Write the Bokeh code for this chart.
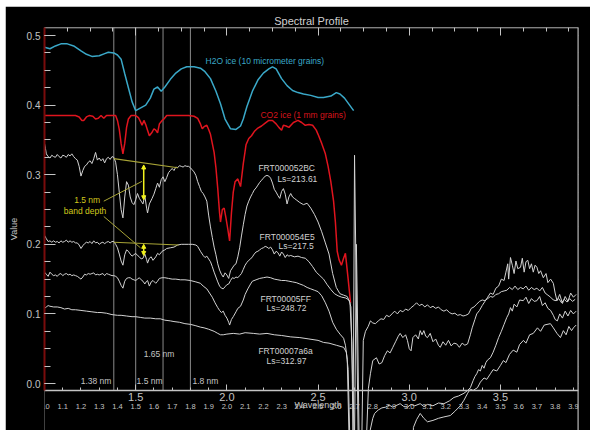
from bokeh.plotting import figure
from bokeh.models import (Range1d, LinearAxis, FixedTicker, Label, Arrow, NormalHead,
                          PrintfTickFormatter)
from bokeh.embed import file_html
from bokeh.resources import INLINE
from bokeh.core.properties import value

# ---------------- data (wavelength in micrometers, value) ----------------
h2o_ice = [(1.00,0.483),(1.03,0.481),(1.06,0.485),(1.09,0.488),(1.125,0.488),(1.16,0.485),(1.20,0.478),
           (1.23,0.473),(1.26,0.470),(1.30,0.471),(1.33,0.474),(1.35,0.476),(1.38,0.475),(1.40,0.472),
           (1.42,0.466),(1.44,0.445),(1.46,0.425),(1.48,0.405),(1.50,0.392),(1.52,0.395),(1.555,0.400),
           (1.58,0.410),(1.60,0.423),(1.62,0.426),(1.64,0.420),(1.66,0.426),(1.69,0.437),(1.72,0.446),
           (1.75,0.452),(1.78,0.455),(1.82,0.455),(1.855,0.453),(1.88,0.448),(1.91,0.438),(1.94,0.420),
           (1.965,0.402),(1.99,0.380),(2.02,0.366),(2.05,0.365),(2.075,0.370),(2.09,0.380),(2.11,0.398),
           (2.14,0.420),(2.17,0.436),(2.20,0.446),(2.23,0.452),(2.25,0.455),(2.27,0.452),(2.30,0.438),
           (2.33,0.428),(2.36,0.421),(2.39,0.418),(2.42,0.416),(2.46,0.414),(2.50,0.411),(2.53,0.411),
           (2.57,0.413),(2.60,0.418),(2.62,0.416),(2.645,0.410),(2.67,0.401),(2.695,0.392)]

co2_ice = [(1.00,0.385),(1.17,0.385),(1.19,0.383),(1.205,0.378),(1.215,0.378),(1.23,0.383),(1.245,0.385),
           (1.265,0.384),(1.28,0.380),(1.295,0.381),(1.31,0.385),(1.325,0.381),(1.34,0.385),(1.39,0.385),
           (1.40,0.378),(1.41,0.365),(1.42,0.345),(1.43,0.330),(1.44,0.345),(1.45,0.368),(1.46,0.380),
           (1.475,0.385),(1.50,0.385),(1.515,0.382),(1.525,0.377),(1.535,0.371),(1.545,0.378),(1.555,0.372),
           (1.565,0.364),(1.575,0.356),(1.59,0.361),(1.60,0.366),(1.61,0.364),(1.62,0.360),(1.63,0.373),
           (1.645,0.378),(1.655,0.380),(1.67,0.385),(1.79,0.385),(1.82,0.384),(1.84,0.381),(1.855,0.373),
           (1.865,0.366),(1.875,0.369),(1.89,0.371),(1.90,0.365),(1.91,0.358),(1.92,0.345),(1.93,0.332),
           (1.94,0.310),(1.95,0.280),(1.96,0.245),(1.965,0.232),(1.975,0.250),(1.985,0.252),(1.995,0.238),
           (2.005,0.222),(2.015,0.205),(2.025,0.245),(2.035,0.275),(2.045,0.290),(2.06,0.294),(2.075,0.283),
           (2.09,0.316),(2.105,0.343),(2.12,0.352),(2.135,0.356),(2.15,0.362),(2.17,0.367),(2.19,0.370),
           (2.21,0.374),(2.23,0.378),(2.25,0.378),(2.27,0.373),(2.285,0.368),(2.30,0.364),(2.31,0.371),
           (2.325,0.370),(2.34,0.368),(2.365,0.375),(2.39,0.378),(2.41,0.375),(2.43,0.371),(2.45,0.372),
           (2.47,0.371),(2.49,0.364),(2.50,0.358),(2.52,0.345),(2.54,0.330),(2.555,0.312),(2.57,0.290),
           (2.585,0.262),(2.595,0.232),(2.605,0.190),(2.615,0.178),(2.628,0.170),(2.64,0.180),(2.65,0.187),
           (2.665,0.150),(2.678,0.116)]

frt_52bc = [(1.00,0.345),(1.005,0.338),(1.01,0.330),(1.02,0.326),(1.03,0.324),(1.04,0.328),(1.05,0.326),
            (1.06,0.325),(1.07,0.329),(1.08,0.326),(1.09,0.324),(1.10,0.328),(1.11,0.327),(1.12,0.325),
            (1.13,0.329),(1.14,0.327),(1.15,0.330),(1.16,0.326),(1.17,0.323),(1.18,0.321),(1.19,0.312),
            (1.20,0.298),(1.21,0.306),(1.22,0.312),(1.23,0.314),(1.24,0.318),(1.25,0.320),(1.26,0.316),
            (1.27,0.323),(1.28,0.332),(1.29,0.321),(1.30,0.324),(1.31,0.320),(1.32,0.323),(1.33,0.317),
            (1.34,0.323),(1.35,0.325),(1.36,0.322),(1.37,0.326),(1.38,0.325),(1.39,0.318),(1.40,0.300),
            (1.41,0.275),(1.42,0.250),(1.43,0.238),(1.44,0.268),(1.45,0.290),(1.46,0.285),(1.47,0.268),
            (1.48,0.260),(1.49,0.257),(1.50,0.264),(1.51,0.273),(1.52,0.266),(1.53,0.262),(1.54,0.258),
            (1.55,0.270),(1.56,0.252),(1.565,0.245),(1.575,0.258),(1.59,0.266),(1.60,0.272),(1.61,0.280),
            (1.62,0.288),(1.63,0.282),(1.64,0.293),(1.65,0.297),(1.66,0.290),(1.67,0.296),(1.68,0.303),
            (1.69,0.306),(1.70,0.309),(1.71,0.306),(1.72,0.311),(1.73,0.310),(1.74,0.313),(1.75,0.312),
            (1.76,0.311),(1.77,0.313),(1.78,0.312),(1.79,0.312),(1.80,0.310),(1.81,0.307),(1.82,0.304),
            (1.83,0.299),(1.84,0.290),(1.85,0.283),(1.86,0.276),(1.87,0.273),(1.88,0.268),(1.89,0.262),
            (1.90,0.242),(1.91,0.225),(1.92,0.210),(1.93,0.196),(1.94,0.185),(1.95,0.172),(1.96,0.163),
            (1.97,0.157),(1.98,0.153),(1.99,0.159),(2.00,0.156),(2.01,0.151),(2.02,0.162),(2.03,0.166),
            (2.04,0.170),(2.05,0.172),(2.06,0.182),(2.07,0.195),(2.08,0.212),(2.09,0.228),(2.10,0.243),
            (2.11,0.255),(2.12,0.262),(2.13,0.268),(2.14,0.273),(2.15,0.278),(2.16,0.281),(2.17,0.285),
            (2.18,0.289),(2.19,0.292),(2.20,0.295),(2.21,0.298),(2.22,0.299),(2.23,0.298),(2.24,0.295),
            (2.25,0.288),(2.26,0.279),(2.27,0.275),(2.28,0.270),(2.29,0.266),(2.30,0.276),(2.31,0.280),
            (2.32,0.272),(2.33,0.258),(2.34,0.268),(2.35,0.273),(2.36,0.268),(2.37,0.266),(2.38,0.264),
            (2.39,0.262),(2.40,0.260),(2.42,0.257),(2.44,0.259),(2.46,0.252),(2.48,0.243),(2.50,0.232),
            (2.52,0.218),(2.54,0.202),(2.56,0.186),(2.58,0.158),(2.60,0.138),(2.62,0.129),(2.64,0.127),
            (2.66,0.125),(2.675,0.116),(2.685,0.060),(2.692,-0.080),(2.70,0.328),(2.71,0.120),(2.72,-0.080),
            (2.765,-0.080),(2.776,-0.007),(2.787,0.014),(2.80,0.033),(2.82,0.037),(2.835,0.028),(2.85,0.030),
            (2.865,0.040),(2.88,0.047),(2.895,0.044),(2.91,0.052),(2.925,0.060),(2.94,0.068),(2.95,0.072),
            (2.965,0.066),(2.98,0.070),(2.99,0.062),(3.00,0.050),(3.01,0.047),(3.02,0.066),(3.035,0.070),
            (3.05,0.064),(3.06,0.076),(3.07,0.070),(3.08,0.076),(3.09,0.068),(3.10,0.066),(3.115,0.072),
            (3.13,0.060),(3.145,0.064),(3.16,0.055),(3.17,0.052),(3.185,0.060),(3.20,0.055),(3.215,0.062),
            (3.23,0.054),(3.245,0.058),(3.26,0.057),(3.275,0.052),(3.29,0.058),(3.305,0.055),(3.32,0.057),
            (3.335,0.070),(3.345,0.080),(3.36,0.092),(3.37,0.100),(3.385,0.105),(3.40,0.112),(3.415,0.118),
            (3.43,0.124),(3.445,0.130),(3.46,0.128),(3.475,0.137),(3.49,0.140),(3.505,0.150),(3.52,0.148),
            (3.53,0.160),(3.54,0.172),(3.545,0.150),(3.555,0.181),(3.565,0.170),(3.575,0.158),(3.585,0.176),
            (3.595,0.165),(3.61,0.167),(3.62,0.180),(3.63,0.160),(3.64,0.175),(3.65,0.177),(3.66,0.165),
            (3.67,0.172),(3.68,0.160),(3.69,0.170),(3.70,0.167),(3.71,0.158),(3.72,0.162),(3.735,0.152),
            (3.75,0.158),(3.76,0.145),(3.775,0.150),(3.79,0.144),(3.80,0.130),(3.81,0.119),(3.825,0.128),
            (3.84,0.115),(3.855,0.125),(3.87,0.118),(3.885,0.130),(3.90,0.124),(3.915,0.128)]

frt_54e5 = [(1.00,0.213),(1.01,0.208),(1.02,0.204),(1.03,0.205),(1.04,0.203),(1.05,0.205),(1.06,0.203),
            (1.07,0.204),(1.08,0.202),(1.09,0.205),(1.10,0.203),(1.11,0.204),(1.12,0.206),(1.13,0.203),
            (1.14,0.205),(1.15,0.203),(1.16,0.204),(1.17,0.202),(1.18,0.202),(1.19,0.199),(1.20,0.194),
            (1.21,0.198),(1.22,0.201),(1.23,0.203),(1.24,0.202),(1.25,0.204),(1.26,0.201),(1.27,0.205),
            (1.28,0.202),(1.29,0.203),(1.30,0.200),(1.31,0.202),(1.32,0.203),(1.33,0.201),(1.34,0.203),
            (1.35,0.204),(1.36,0.202),(1.37,0.204),(1.38,0.204),(1.39,0.200),(1.40,0.195),(1.41,0.186),
            (1.42,0.176),(1.43,0.170),(1.44,0.185),(1.45,0.192),(1.46,0.190),(1.47,0.186),(1.48,0.183),
            (1.49,0.185),(1.50,0.187),(1.51,0.184),(1.52,0.182),(1.53,0.179),(1.54,0.180),(1.55,0.186),
            (1.56,0.178),(1.565,0.173),(1.575,0.180),(1.585,0.182),(1.595,0.177),(1.61,0.182),(1.62,0.187),
            (1.63,0.185),(1.645,0.190),(1.66,0.192),(1.67,0.194),(1.69,0.195),(1.71,0.196),(1.73,0.199),
            (1.75,0.200),(1.77,0.200),(1.79,0.200),(1.81,0.200),(1.83,0.199),(1.84,0.197),(1.855,0.190),
            (1.87,0.184),(1.88,0.181),(1.89,0.183),(1.90,0.179),(1.91,0.175),(1.92,0.168),(1.93,0.160),
            (1.94,0.153),(1.95,0.146),(1.96,0.140),(1.97,0.137),(1.98,0.136),(1.99,0.139),(2.00,0.142),
            (2.01,0.143),(2.02,0.148),(2.03,0.152),(2.04,0.151),(2.05,0.153),(2.06,0.152),(2.07,0.155),
            (2.08,0.158),(2.09,0.164),(2.10,0.170),(2.11,0.174),(2.12,0.177),(2.13,0.179),(2.14,0.182),
            (2.15,0.186),(2.16,0.189),(2.17,0.190),(2.18,0.192),(2.19,0.194),(2.20,0.195),(2.21,0.197),
            (2.22,0.196),(2.23,0.194),(2.24,0.196),(2.25,0.192),(2.26,0.186),(2.27,0.190),(2.28,0.188),
            (2.29,0.183),(2.30,0.189),(2.31,0.186),(2.32,0.181),(2.33,0.185),(2.34,0.183),(2.35,0.184),
            (2.37,0.182),(2.39,0.183),(2.41,0.181),(2.43,0.180),(2.45,0.175),(2.47,0.168),(2.49,0.160),
            (2.51,0.155),(2.53,0.150),(2.55,0.142),(2.57,0.135),(2.59,0.129),(2.61,0.126),(2.63,0.124),
            (2.65,0.123),(2.67,0.120),(2.68,0.110),(2.69,0.000),(2.70,-0.080),(2.71,0.200),(2.715,0.120),
            (2.725,-0.080),(2.74,-0.080),(2.748,0.062),(2.76,0.075),(2.775,0.082),(2.787,0.090),(2.80,0.087),
            (2.815,0.086),(2.83,0.090),(2.845,0.093),(2.86,0.092),(2.875,0.098),(2.89,0.096),(2.905,0.100),
            (2.92,0.104),(2.935,0.100),(2.95,0.105),(2.965,0.103),(2.98,0.107),(2.995,0.105),(3.01,0.109),
            (3.025,0.112),(3.04,0.116),(3.055,0.112),(3.07,0.114),(3.085,0.110),(3.10,0.113),(3.115,0.109),
            (3.13,0.111),(3.145,0.108),(3.16,0.110),(3.175,0.106),(3.19,0.104),(3.205,0.106),(3.22,0.102),
            (3.235,0.100),(3.25,0.101),(3.265,0.098),(3.28,0.099),(3.295,0.097),(3.31,0.098),(3.325,0.100),
            (3.34,0.108),(3.355,0.110),(3.37,0.114),(3.385,0.118),(3.40,0.120),(3.415,0.119),(3.43,0.122),
            (3.445,0.125),(3.46,0.124),(3.475,0.128),(3.49,0.129),(3.505,0.132),(3.52,0.133),(3.535,0.134),
            (3.55,0.138),(3.565,0.135),(3.58,0.140),(3.595,0.135),(3.61,0.138),(3.625,0.136),(3.64,0.140),
            (3.655,0.134),(3.67,0.138),(3.685,0.135),(3.70,0.137),(3.715,0.133),(3.73,0.138),(3.745,0.130),
            (3.76,0.127),(3.775,0.124),(3.79,0.120),(3.805,0.119),(3.82,0.122),(3.835,0.116),(3.85,0.121),
            (3.865,0.117),(3.88,0.122),(3.895,0.118),(3.91,0.121)]

frt_5ff = [(1.00,0.160),(1.01,0.157),(1.02,0.154),(1.03,0.160),(1.04,0.157),(1.05,0.155),(1.06,0.156),
           (1.07,0.154),(1.08,0.157),(1.09,0.158),(1.10,0.155),(1.11,0.157),(1.12,0.158),(1.13,0.156),
           (1.14,0.157),(1.15,0.155),(1.16,0.156),(1.17,0.155),(1.18,0.154),(1.19,0.152),(1.20,0.150),
           (1.21,0.153),(1.22,0.157),(1.23,0.156),(1.24,0.158),(1.25,0.157),(1.26,0.158),(1.27,0.159),
           (1.28,0.156),(1.29,0.157),(1.30,0.156),(1.31,0.157),(1.32,0.158),(1.33,0.155),(1.34,0.158),
           (1.35,0.157),(1.36,0.156),(1.37,0.155),(1.38,0.155),(1.39,0.154),(1.40,0.152),(1.41,0.147),
           (1.42,0.141),(1.43,0.137),(1.44,0.147),(1.45,0.151),(1.46,0.152),(1.47,0.152),(1.48,0.150),
           (1.49,0.149),(1.50,0.148),(1.51,0.150),(1.52,0.152),(1.53,0.149),(1.54,0.147),(1.55,0.143),
           (1.56,0.147),(1.565,0.148),(1.575,0.140),(1.585,0.146),(1.595,0.148),(1.61,0.144),(1.62,0.147),
           (1.63,0.151),(1.645,0.152),(1.66,0.152),(1.68,0.151),(1.70,0.150),(1.72,0.150),(1.745,0.149),
           (1.77,0.149),(1.80,0.148),(1.83,0.146),(1.855,0.144),(1.87,0.140),(1.89,0.136),(1.905,0.130),
           (1.92,0.124),(1.935,0.116),(1.95,0.109),(1.96,0.105),(1.97,0.102),(1.98,0.104),(1.99,0.098),
           (2.00,0.094),(2.01,0.088),(2.015,0.084),(2.025,0.092),(2.035,0.096),(2.05,0.103),(2.06,0.108),
           (2.075,0.111),(2.09,0.120),(2.10,0.128),(2.115,0.136),(2.13,0.143),(2.14,0.147),(2.16,0.149),
           (2.18,0.151),(2.20,0.152),(2.22,0.153),(2.24,0.152),(2.26,0.150),(2.28,0.149),(2.30,0.148),
           (2.32,0.148),(2.34,0.147),(2.36,0.146),(2.38,0.145),(2.40,0.143),(2.42,0.141),(2.44,0.138),
           (2.46,0.136),(2.48,0.134),(2.50,0.132),(2.52,0.126),(2.54,0.116),(2.56,0.104),(2.58,0.088),
           (2.60,0.078),(2.62,0.071),(2.64,0.065),(2.65,0.055),(2.66,0.035),(2.67,-0.080),(2.78,-0.080),
           (2.785,-0.068),(2.80,-0.050),(2.81,-0.043),(2.83,-0.038),(2.85,-0.035),(2.87,-0.034),
           (2.89,-0.031),(2.91,-0.034),(2.925,-0.032),(2.95,-0.029),(2.97,-0.033),(2.99,-0.034),
           (3.01,-0.030),(3.03,-0.032),(3.06,-0.029),(3.08,-0.033),(3.10,-0.030),(3.13,-0.032),
           (3.16,-0.028),(3.19,-0.029),(3.22,-0.025),(3.245,-0.020),(3.27,-0.018),(3.30,-0.014),
           (3.32,-0.010),(3.335,-0.006),(3.35,0.004),(3.36,0.010),(3.37,0.014),(3.38,0.020),(3.39,0.018),
           (3.40,0.026),(3.41,0.022),(3.42,0.030),(3.43,0.034),(3.445,0.037),(3.46,0.045),(3.475,0.055),
           (3.49,0.066),(3.505,0.075),(3.52,0.085),(3.535,0.095),(3.545,0.100),(3.555,0.109),(3.565,0.104),
           (3.575,0.114),(3.59,0.110),(3.605,0.120),(3.625,0.119),(3.64,0.124),(3.655,0.115),(3.67,0.122),
           (3.685,0.118),(3.70,0.119),(3.715,0.125),(3.73,0.112),(3.745,0.116),(3.76,0.108),(3.775,0.105),
           (3.79,0.098),(3.80,0.092),(3.812,0.090),(3.825,0.100),(3.84,0.094),(3.855,0.104),(3.87,0.097),
           (3.885,0.105),(3.90,0.100),(3.915,0.104)]

frt_7a6a = [(1.00,0.108),(1.01,0.110),(1.02,0.112),(1.03,0.111),(1.05,0.110),(1.07,0.110),(1.09,0.109),
            (1.11,0.107),(1.13,0.108),(1.15,0.106),(1.17,0.106),(1.20,0.105),(1.23,0.104),(1.26,0.103),
            (1.29,0.102),(1.31,0.102),(1.34,0.101),(1.37,0.099),(1.40,0.098),(1.42,0.098),(1.45,0.097),
            (1.48,0.096),(1.50,0.096),(1.525,0.095),(1.55,0.094),(1.58,0.094),(1.61,0.093),(1.635,0.093),
            (1.66,0.091),(1.69,0.090),(1.71,0.089),(1.74,0.088),(1.77,0.086),(1.80,0.085),(1.83,0.083),
            (1.855,0.081),(1.875,0.080),(1.90,0.078),(1.93,0.075),(1.95,0.072),(1.965,0.070),(1.98,0.070),
            (2.00,0.071),(2.035,0.072),(2.07,0.071),(2.10,0.073),(2.145,0.072),(2.18,0.071),(2.22,0.072),
            (2.26,0.070),(2.30,0.069),(2.35,0.067),(2.40,0.066),(2.45,0.064),(2.50,0.062),(2.53,0.059),
            (2.56,0.058),(2.60,0.055),(2.64,0.052),(2.655,0.045),(2.665,0.020),(2.675,-0.090),(3.02,-0.090),
            (3.023,-0.063),(3.04,-0.052),(3.06,-0.043),(3.08,-0.050),(3.10,-0.055),(3.13,-0.053),
            (3.16,-0.050),(3.19,-0.048),(3.225,-0.046),(3.25,-0.040),(3.28,-0.032),(3.30,-0.024),
            (3.32,-0.014),(3.335,-0.008),(3.35,-0.010),(3.374,-0.006),(3.39,0.002),(3.41,0.008),
            (3.425,0.006),(3.445,0.014),(3.46,0.020),(3.48,0.018),(3.50,0.026),(3.516,0.033),(3.53,0.030),
            (3.55,0.042),(3.57,0.048),(3.59,0.045),(3.605,0.056),(3.626,0.062),(3.64,0.058),(3.66,0.070),
            (3.68,0.072),(3.703,0.080),(3.72,0.075),(3.74,0.084),(3.774,0.086),(3.79,0.080),(3.81,0.072),
            (3.829,0.066),(3.845,0.076),(3.86,0.070),(3.875,0.082),(3.89,0.076),(3.90,0.080),(3.915,0.084)]

spectra = [frt_52bc, frt_54e5, frt_5ff, frt_7a6a]

# spectrum labels
spec_label_text = ["FRT000052BC", "Ls=213.61", "FRT000054E5", "Ls=217.5",
                   "FRT00005FF", "Ls=248.72", "FRT00007a6a", "Ls=312.97"]
spec_label_x = [2.173, 2.277, 2.179, 2.283, 2.184, 2.217, 2.173, 2.217]
spec_label_y = [0.309, 0.2945, 0.211, 0.197, 0.122, 0.109, 0.047, 0.033]

# reference wavelengths
ref_lines = [1.38, 1.5, 1.65, 1.8]
ref_text = ["1.38 nm", "1.5 nm", "1.65 nm", "1.8 nm"]
ref_text_x = [1.367, 1.505, 1.628, 1.811]
ref_text_y = [0.004, 0.004, 0.042, 0.004]
ref_text_align = ["right", "left", "center", "left"]

# band-depth annotation
cont_x0 = [1.38, 1.38]
cont_y0 = [0.323, 0.203]
cont_x1 = [1.73, 1.735]
cont_y1 = [0.310, 0.199]
depth_x = [1.544, 1.544]
depth_top = [0.314, 0.200]
depth_bot = [0.264, 0.184]
ptr_x0 = [1.325, 1.325]
ptr_y0 = [0.262, 0.240]
ptr_x1 = [1.535, 1.526]
ptr_y1 = [0.2905, 0.195]

# axes
y_ticks = [0.0, 0.1, 0.2, 0.3, 0.4, 0.5]
y_minor = [round(0.025 * i, 3) for i in range(0, 21)]
x_major_ticks = [1.5, 2.0, 2.5, 3.0, 3.5]
x_small_ticks = [round(1.0 + 0.1 * i, 1) for i in range(0, 30)]
top_minor = [1.0 + 0.125 * i for i in range(0, 24)]

X0, X1 = 1.0, 3.928
Y0, Y1 = -0.0675, 0.5115
Y_AXIS = -0.01

FONT = value("Liberation Sans")
GRAY = "#c4c4c4"
WHITE = "#d2d2d2"
CYAN = "#3aa8c8"
RED = "#e0141e"
YEL_TXT = "#d0c81c"
YEL_LINE = "#a8a436"
YEL_ARROW = "#f2f21e"

p = figure(width=585, height=424, output_backend="svg", toolbar_location=None,
           x_range=Range1d(X0, X1), y_range=Range1d(Y0, Y1),
           x_axis_location=None, y_axis_location=None,
           min_border_left=39, min_border_right=12, min_border_top=21, min_border_bottom=0,
           background_fill_color="black", border_fill_color="black", outline_line_color=None)
p.margin = (6, 0, 0, 5)
p.grid.visible = False

p.title.text = "Spectral Profile"
p.title.align = "center"
p.title.text_color = "#d0d0d0"
p.title.text_font_size = "11px"
p.title.text_font_style = "normal"
p.title.text_font = "Liberation Sans"
p.title.standoff = 1

# left axis
yax = LinearAxis(ticker=FixedTicker(ticks=y_ticks, minor_ticks=y_minor), bounds=(Y_AXIS, Y1),
                 formatter=PrintfTickFormatter(format="%.1f"),
                 axis_line_color="#7a0c0c", axis_line_width=2,
                 major_tick_in=11, major_tick_out=0, minor_tick_in=6, minor_tick_out=0,
                 major_tick_line_color=GRAY, minor_tick_line_color=GRAY,
                 major_label_text_color=GRAY, major_label_text_font_size="10px",
                 major_label_text_font="Liberation Sans", major_label_standoff=4,
                 axis_label="Value", axis_label_text_color=GRAY, axis_label_text_font_size="9px",
                 axis_label_text_font="Liberation Sans", axis_label_text_font_style="normal",
                 axis_label_standoff=5)
p.add_layout(yax, "left")

# top axis (ticks only)
tax = LinearAxis(ticker=FixedTicker(ticks=[1.0] + x_major_ticks, minor_ticks=top_minor),
                 fixed_location=Y1, axis_line_color=GRAY, axis_line_width=1.5,
                 major_tick_in=8, major_tick_out=0, minor_tick_in=4, minor_tick_out=0,
                 major_tick_line_color=GRAY, minor_tick_line_color=GRAY,
                 major_label_text_alpha=0, major_label_text_font_size="1px")
p.add_layout(tax, "above")

# right axis (ticks only)
rax = LinearAxis(ticker=FixedTicker(ticks=y_ticks, minor_ticks=y_minor), fixed_location=X1,
                 axis_line_color="#bdbdbd", axis_line_width=2,
                 major_tick_in=0, major_tick_out=12, minor_tick_in=0, minor_tick_out=6,
                 major_tick_line_color="#9a9a9a", minor_tick_line_color="#9a9a9a",
                 major_label_text_alpha=0, major_label_text_font_size="1px")
p.add_layout(rax, "right")

# bottom axes
bax = LinearAxis(ticker=FixedTicker(ticks=x_major_ticks, minor_ticks=x_small_ticks),
                 fixed_location=Y_AXIS, formatter=PrintfTickFormatter(format="%.1f"),
                 axis_line_color=GRAY, axis_line_width=1.5,
                 major_tick_in=6, major_tick_out=0, minor_tick_in=3, minor_tick_out=0,
                 major_tick_line_color=GRAY, minor_tick_line_color=GRAY,
                 major_label_text_color=GRAY, major_label_text_font_size="11px",
                 major_label_text_font="Liberation Sans", major_label_standoff=3)
p.add_layout(bax, "below")

bax2 = LinearAxis(ticker=FixedTicker(ticks=x_small_ticks, minor_ticks=[]),
                  fixed_location=Y_AXIS, formatter=PrintfTickFormatter(format="%.1f"),
                  axis_line_color=None, major_tick_line_color=None, minor_tick_line_color=None,
                  major_tick_in=0, major_tick_out=0,
                  major_label_text_color=GRAY, major_label_text_font_size="7.5px",
                  major_label_text_font="Liberation Sans", major_label_standoff=14)
p.add_layout(bax2, "below")

p.add_layout(Label(x=2.5, y=-0.0315, text="Wavelength", text_align="center", text_baseline="middle",
                   text_color=GRAY, text_font_size="9px", text_font="Liberation Sans"))

# reference vertical lines
p.segment(x0=ref_lines, y0=[Y_AXIS] * len(ref_lines), x1=ref_lines, y1=[Y1] * len(ref_lines),
          line_color="#8a8a8a", line_width=1)
for t, tx, ty, ta in zip(ref_text, ref_text_x, ref_text_y, ref_text_align):
    p.text(x=[tx], y=[ty], text=[t], text_font=FONT, text_font_size="8.5px", text_color=GRAY,
           text_align=ta, text_baseline="middle")

# spectra
p.line([w for w, _ in h2o_ice], [v for _, v in h2o_ice], line_color=CYAN, line_width=1.5)
p.line([w for w, _ in co2_ice], [v for _, v in co2_ice], line_color=RED, line_width=1.5)
for s in spectra:
    p.line([w for w, _ in s], [v for _, v in s], line_color=WHITE, line_width=1)

p.text(x=[1.883], y=[0.464], text=["H2O ice (10 micrometer grains)"], text_font=FONT,
       text_font_size="8.5px", text_color=CYAN, text_baseline="middle")
p.text(x=[2.184], y=[0.3865], text=["CO2 ice (1 mm grains)"], text_font=FONT,
       text_font_size="8.5px", text_color="#d8141c", text_baseline="middle")
p.text(x=spec_label_x, y=spec_label_y, text=spec_label_text, text_font=FONT,
       text_font_size="8.5px", text_color=WHITE, text_baseline="middle")

# band depth annotation
p.segment(x0=cont_x0, y0=cont_y0, x1=cont_x1, y1=cont_y1, line_color=YEL_LINE, line_width=1.2)
p.segment(x0=ptr_x0, y0=ptr_y0, x1=ptr_x1, y1=ptr_y1, line_color=YEL_LINE, line_width=1)
for xa, ya, yb in zip(depth_x, depth_top, depth_bot):
    p.add_layout(Arrow(start=NormalHead(size=4, fill_color=YEL_ARROW, line_color=YEL_ARROW),
                       end=NormalHead(size=4, fill_color=YEL_ARROW, line_color=YEL_ARROW),
                       x_start=xa, y_start=ya, x_end=xa, y_end=yb,
                       line_color=YEL_ARROW, line_width=1.5))
p.text(x=[1.234, 1.222], y=[0.263, 0.2485], text=["1.5 nm", "band depth"], text_font=FONT,
       text_font_size="8.5px", text_color=YEL_TXT, text_align="center", text_baseline="middle")

open("out.html", "w").write(file_html(p, INLINE))
